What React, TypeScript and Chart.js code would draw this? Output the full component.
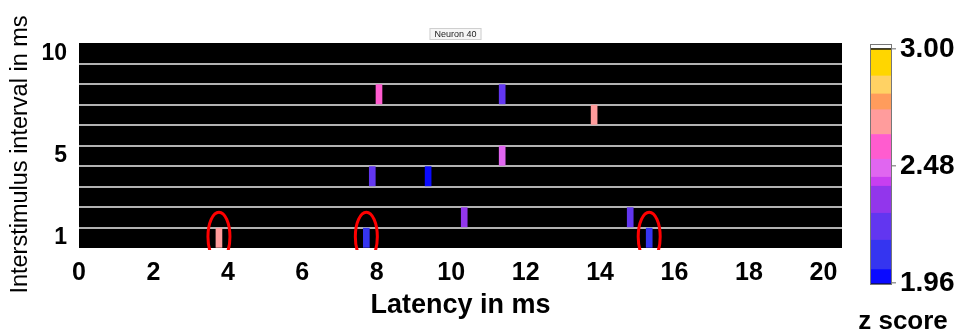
import React, { useEffect, useRef } from 'react';
import { Chart, registerables } from 'chart.js';

Chart.register(...registerables);

// Significant response events: latency (ms), interstimulus interval (ms), z score
const eventLatency = [3.76, 7.72, 15.32, 10.35, 14.81, 7.88, 9.38, 11.37, 13.84, 8.06, 11.37];
const eventInterval = [1, 1, 1, 2, 2, 4, 4, 5, 7, 8, 8];
const eventZScore = [2.68, 2.08, 2.08, 2.3, 2.25, 2.25, 2.0, 2.47, 2.68, 2.56, 2.18];

// Events highlighted with a red ring
const circledLatency = [3.76, 7.72, 15.32];
const circledInterval = [1, 1, 1];

// Axis ticks
const latencyTicks = [0, 2, 4, 6, 8, 10, 12, 14, 16, 18, 20];
const intervalTickLabels = [1, 5, 10];
const intervalRowCount = 10;

// Colour scale: bin edges and the colour of each bin
const zBinEdges = [1.96, 2.02, 2.15, 2.27, 2.39, 2.43, 2.51, 2.62, 2.73, 2.8, 2.88, 3.0];
const zBinColors = [
  '#0a0aff', '#3535f0', '#6236f0', '#9236ec', '#c83ff0', '#e066f0',
  '#ff5ccf', '#ff9c9c', '#ff9c5c', '#ffd264', '#ffd600',
];
const zTickValues = [1.96, 2.48, 3.0];

const neuronTitle = 'Neuron 40';
const intervalAxisTitle = 'Interstimulus interval in ms';

const FONT = "'Liberation Sans', Arial, sans-serif";

function zColor(z: number): string {
  for (let i = 0; i < zBinColors.length; i++) {
    if (z < zBinEdges[i + 1]) return zBinColors[i];
  }
  return zBinColors[zBinColors.length - 1];
}

const rasterBackground = {
  id: 'rasterBackground',
  beforeDraw(chart: any) {
    const { ctx, chartArea: a } = chart;
    ctx.save();
    ctx.fillStyle = '#ffffff';
    ctx.fillRect(0, 0, chart.width, chart.height);
    ctx.fillStyle = '#000000';
    ctx.fillRect(a.left, a.top, a.right - a.left, a.bottom - a.top);
    ctx.restore();
  },
};

const ringPlugin = {
  id: 'ringPlugin',
  afterDatasetsDraw(chart: any) {
    const { ctx, scales, chartArea: a } = chart;
    const x = scales.x;
    const y = scales.y;
    const rowH = Math.abs(y.getPixelForValue(1) - y.getPixelForValue(2));
    ctx.save();
    ctx.beginPath();
    ctx.rect(a.left, a.top - 20, a.right - a.left, a.bottom - a.top + 22);
    ctx.clip();
    ctx.strokeStyle = '#ff0000';
    ctx.lineWidth = 3;
    circledLatency.forEach((lat, i) => {
      const cx = x.getPixelForValue(lat);
      const cy = y.getPixelForValue(circledInterval[i]) - 1;
      ctx.beginPath();
      ctx.ellipse(cx, cy, 11, rowH * 1.2, 0, 0, Math.PI * 2);
      ctx.stroke();
    });
    ctx.restore();
  },
};

// Small boxed caption above the raster and the rotated interval-axis title
const captions = {
  id: 'captions',
  afterDraw(chart: any) {
    const { ctx, chartArea: a } = chart;
    ctx.save();
    ctx.font = `9px ${FONT}`;
    const w = ctx.measureText(neuronTitle).width + 10;
    const cx = (a.left + a.right) / 2 - 5;
    const top = a.top - 15;
    ctx.fillStyle = '#f6f6f6';
    ctx.fillRect(cx - w / 2, top, w, 12);
    ctx.strokeStyle = '#cfcfcf';
    ctx.lineWidth = 1;
    ctx.strokeRect(cx - w / 2 + 0.5, top + 0.5, w - 1, 11);
    ctx.fillStyle = '#222222';
    ctx.textAlign = 'center';
    ctx.textBaseline = 'middle';
    ctx.fillText(neuronTitle, cx, top + 6.5);

    ctx.translate(21, (a.top + a.bottom) / 2 + 9);
    ctx.rotate(-Math.PI / 2);
    ctx.font = `23.5px ${FONT}`;
    ctx.fillStyle = '#000000';
    ctx.fillText(intervalAxisTitle, 0, 0);
    ctx.restore();
  },
};

const colorbarFrame = {
  id: 'colorbarFrame',
  afterDatasetsDraw(chart: any) {
    const { ctx, chartArea: a, scales } = chart;
    const yTop = scales.y.getPixelForValue(3.0);
    ctx.save();
    ctx.strokeStyle = '#111111';
    ctx.lineWidth = 1.5;
    ctx.beginPath();
    ctx.moveTo(a.left, yTop);
    ctx.lineTo(a.right, yTop);
    ctx.stroke();
    ctx.strokeStyle = '#777777';
    ctx.lineWidth = 1;
    ctx.strokeRect(a.left + 0.5, a.top + 0.5, a.right - a.left - 1, a.bottom - a.top - 1);
    ctx.restore();
  },
};

function RasterChart() {
  const ref = useRef<HTMLCanvasElement>(null);
  useEffect(() => {
    if (!ref.current) return;
    const rowTicks: number[] = [];
    for (let r = 1; r <= intervalRowCount; r++) {
      if (intervalTickLabels.includes(r)) rowTicks.push(r);
      if (r < intervalRowCount) rowTicks.push(r + 0.5);
    }
    const chart = new Chart(ref.current, {
      type: 'bar',
      data: {
        datasets: [
          {
            data: eventLatency.map((lat, i) => ({
              x: lat,
              y: [eventInterval[i] - 0.47, eventInterval[i] + 0.47],
            })) as any,
            backgroundColor: eventZScore.map(zColor),
            barThickness: 6,
            borderWidth: 0,
          },
        ],
      },
      options: {
        animation: false,
        responsive: false,
        maintainAspectRatio: false,
        layout: { padding: { top: 43, right: 8, bottom: 0, left: 0 } },
        plugins: {
          legend: { display: false },
          tooltip: { enabled: false },
          title: { display: false },
        },
        scales: {
          x: {
            type: 'linear',
            min: 0,
            max: 20.5,
            offset: false,
            afterBuildTicks: (s: any) => {
              s.ticks = latencyTicks.map((v) => ({ value: v }));
            },
            afterFit: (s: any) => {
              s.height = 87;
            },
            grid: { display: false, drawTicks: false },
            border: { display: false },
            ticks: {
              autoSkip: false,
              maxRotation: 0,
              padding: 10,
              color: '#000000',
              font: { family: FONT, size: 25, weight: 'bold' },
            },
            title: {
              display: true,
              text: 'Latency in ms',
              color: '#000000',
              font: { family: FONT, size: 27, weight: 'bold' },
              padding: { top: 0, bottom: 13 },
            },
          },
          y: {
            type: 'linear',
            min: 0.5,
            max: intervalRowCount + 0.5,
            afterBuildTicks: (s: any) => {
              s.ticks = rowTicks.map((v) => ({ value: v }));
            },
            afterFit: (s: any) => {
              s.width = 79;
            },
            grid: {
              drawTicks: false,
              lineWidth: 2,
              color: (c: any) => (c.tick && c.tick.value % 1 === 0.5 ? '#b2b2b2' : 'rgba(0,0,0,0)'),
            },
            border: { display: false },
            ticks: {
              autoSkip: false,
              padding: 12,
              color: '#000000',
              font: { family: FONT, size: 23, weight: 'bold' },
              callback: (v: any) => (intervalTickLabels.includes(Number(v)) ? String(v) : ''),
            },
            title: { display: false },
          },
        },
      } as any,
      plugins: [rasterBackground, ringPlugin, captions],
    });
    return () => chart.destroy();
  }, []);
  return (
    <canvas
      ref={ref}
      width={850}
      height={335}
      style={{ position: 'absolute', left: 0, top: 0, width: 850, height: 335 }}
    />
  );
}

function ColorBar() {
  const ref = useRef<HTMLCanvasElement>(null);
  useEffect(() => {
    if (!ref.current) return;
    const segments = zBinColors.map((c, i) => ({
      data: [[zBinEdges[i], zBinEdges[i + 1]]],
      backgroundColor: c,
    }));
    // white cap above the top of the scale and dark base below it
    segments.push({ data: [[3.0, 3.022]], backgroundColor: '#ffffff' });
    segments.push({ data: [[1.951, 1.96]], backgroundColor: '#101040' });
    const chart = new Chart(ref.current, {
      type: 'bar',
      data: {
        labels: [''],
        datasets: segments.map((s) => ({
          ...s,
          xAxisID: 'x',
          yAxisID: 'y',
          grouped: false,
          barPercentage: 1,
          categoryPercentage: 1,
          borderWidth: 0,
        })) as any,
      },
      options: {
        animation: false,
        responsive: false,
        maintainAspectRatio: false,
        layout: { padding: { top: 44, right: 0, bottom: 0, left: 0 } },
        plugins: {
          legend: { display: false },
          tooltip: { enabled: false },
          title: {
            display: true,
            position: 'bottom',
            text: 'z score',
            color: '#000000',
            font: { family: FONT, size: 26, weight: 'bold', lineHeight: 1 },
            padding: { top: 24, bottom: 0 },
          },
        },
        scales: {
          x: { display: false },
          y: {
            type: 'linear',
            position: 'right',
            min: 1.951,
            max: 3.022,
            afterBuildTicks: (s: any) => {
              s.ticks = zTickValues.map((v) => ({ value: v }));
            },
            afterFit: (s: any) => {
              s.width = 66;
            },
            grid: {
              drawOnChartArea: false,
              tickLength: 4,
              tickColor: '#999999',
              lineWidth: 1.5,
            },
            border: { display: false },
            ticks: {
              autoSkip: false,
              padding: 4,
              color: '#000000',
              font: { family: FONT, size: 28, weight: 'bold' },
              callback: (v: any) => Number(v).toFixed(2),
            },
          },
          pad: {
            type: 'linear',
            position: 'left',
            display: true,
            afterFit: (s: any) => {
              s.width = 22;
            },
            grid: { display: false, drawTicks: false },
            border: { display: false },
            ticks: { display: false },
          },
        },
      } as any,
      plugins: [colorbarFrame],
    });
    return () => chart.destroy();
  }, []);
  return (
    <canvas
      ref={ref}
      width={110}
      height={335}
      style={{ position: 'absolute', left: 848, top: 0, width: 110, height: 335 }}
    />
  );
}

export default function App() {
  useEffect(() => {
    document.body.style.margin = '0';
    document.body.style.background = '#ffffff';
  }, []);
  return (
    <div style={{ position: 'relative', width: 965, height: 335, background: '#ffffff', overflow: 'hidden' }}>
      <RasterChart />
      <ColorBar />
    </div>
  );
}
